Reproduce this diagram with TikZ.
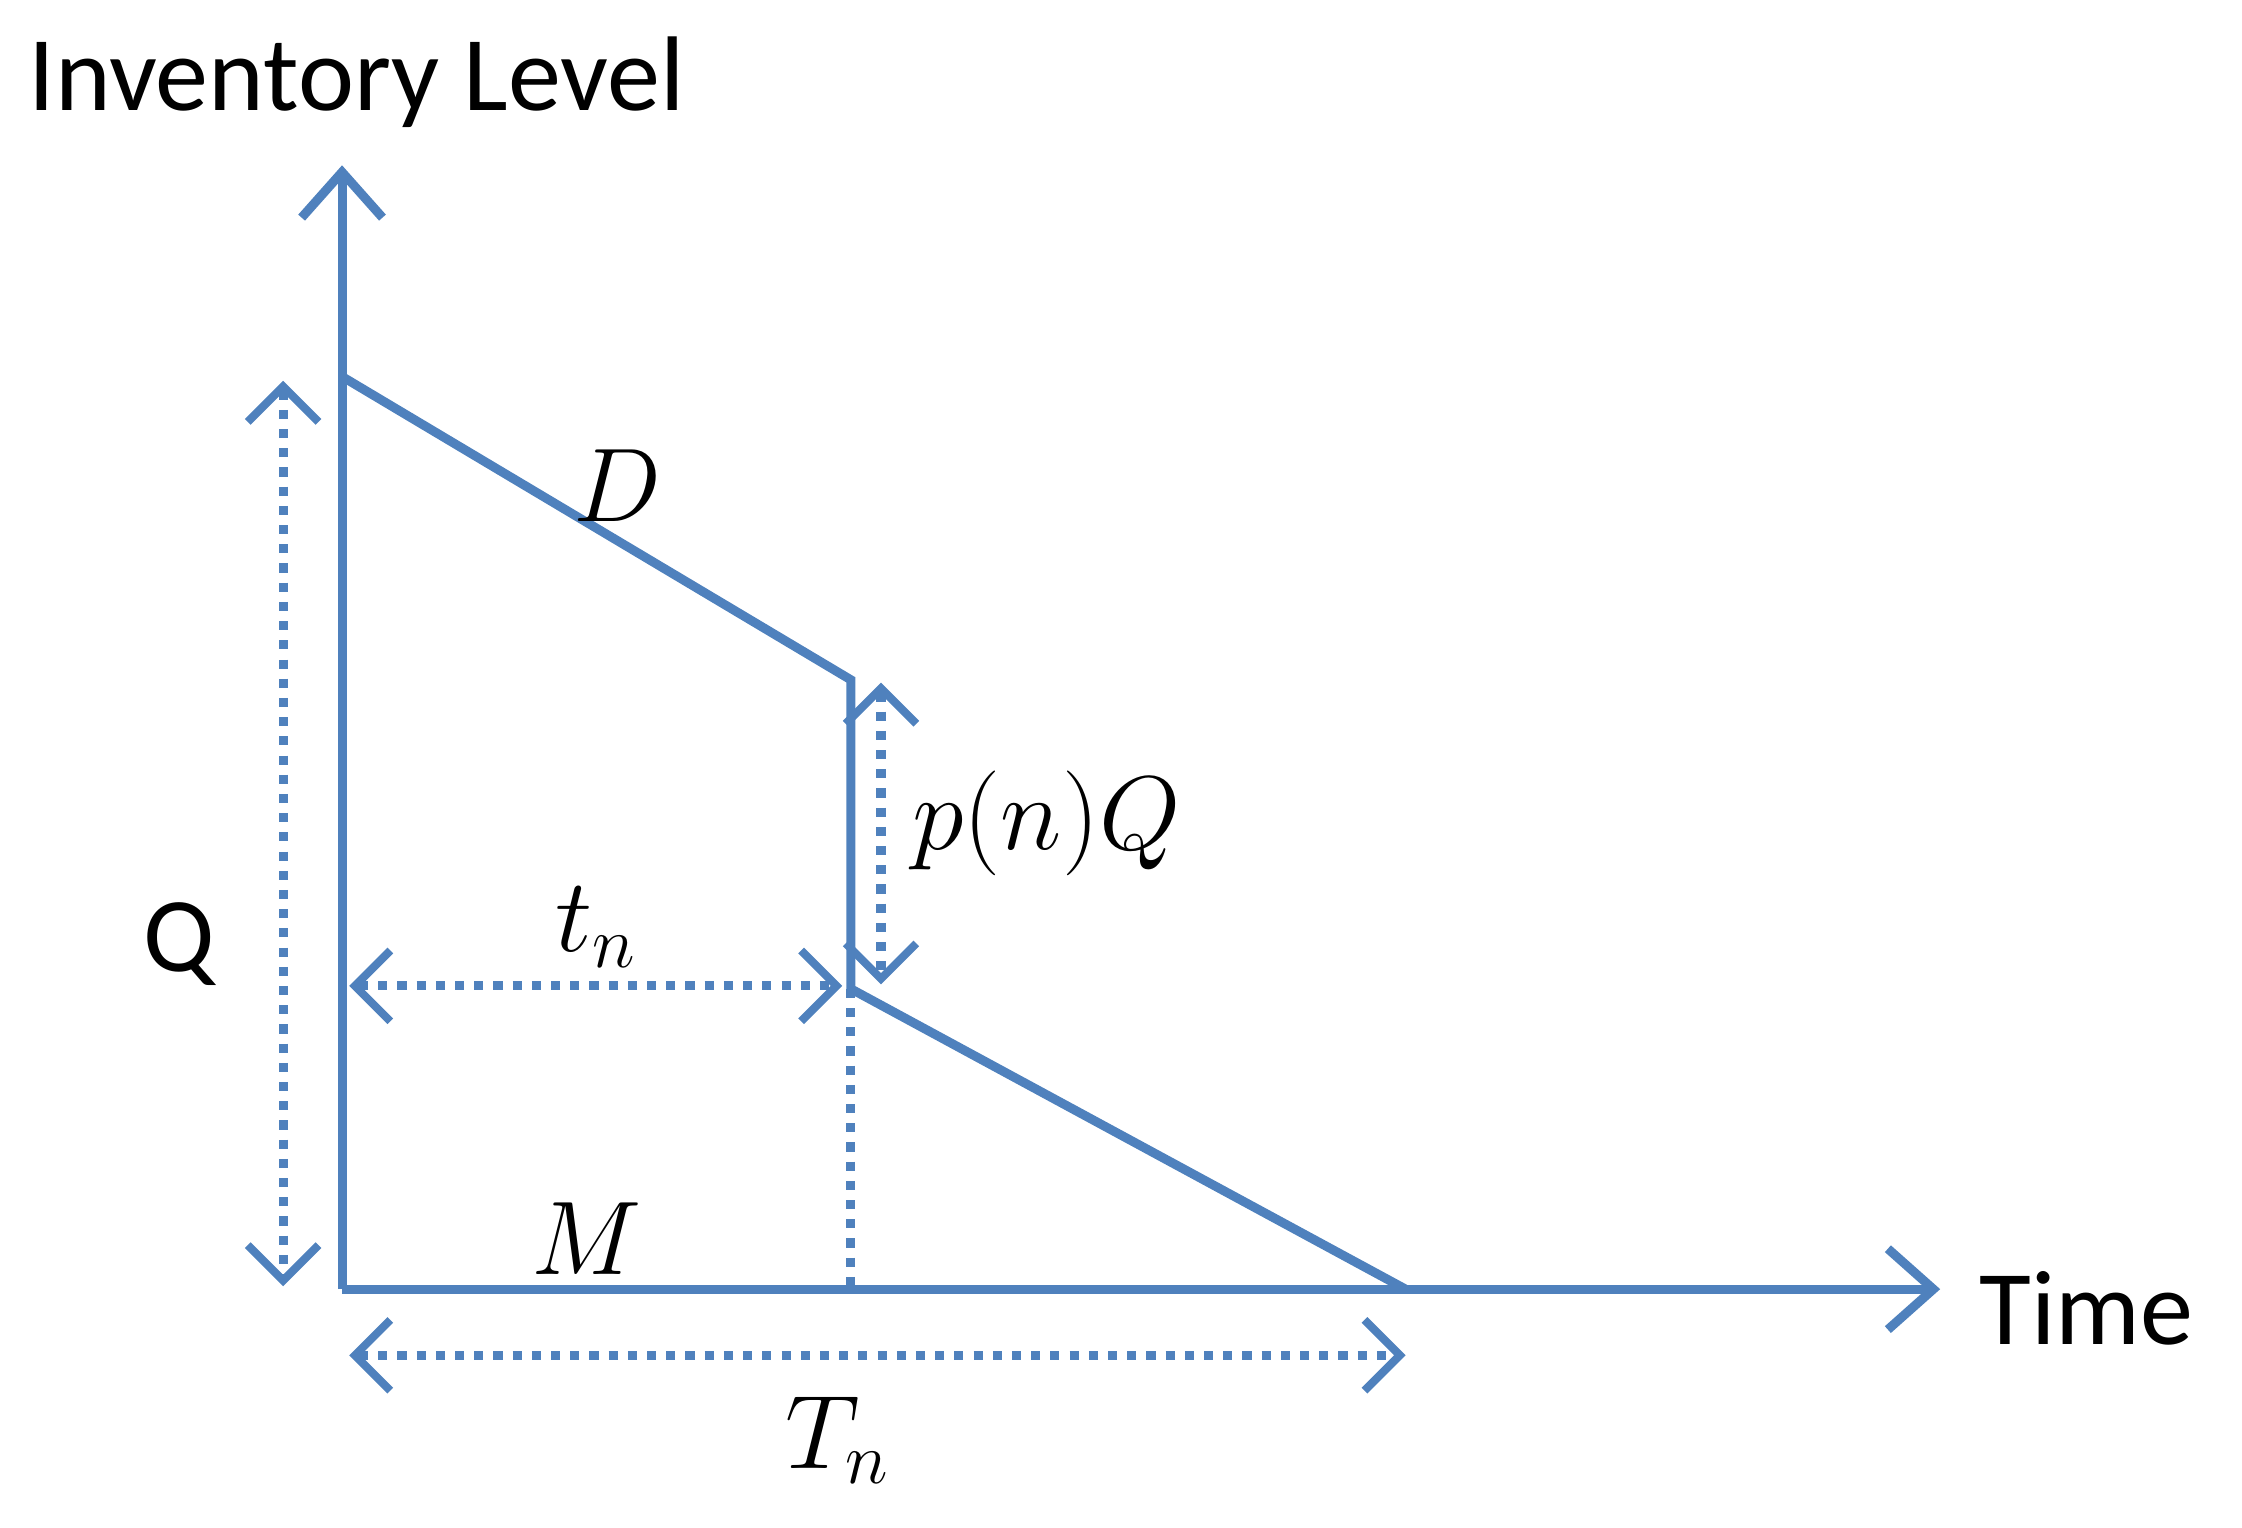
\documentclass[tikz,border=0pt]{standalone}
\usepackage{fontspec}
\setmainfont{Carlito}
\usetikzlibrary{arrows.meta}
\definecolor{bl}{RGB}{79,129,189}
\begin{document}
\begin{tikzpicture}[x=0.01cm,y=-0.01cm,
  ln/.style={draw=bl,line width=1.8pt},
  ax/.style={ln,-{Straight Barb[length=9pt,width=16pt,line width=1.8pt]}},
  dd/.style={draw=bl,line width=1.8pt,dotted,{Straight Barb[length=7pt,width=14pt,line width=1.6pt]}-{Straight Barb[length=7pt,width=14pt,line width=1.6pt]}},
  lb/.style={font=\fontsize{21}{24}\selectfont}]
\useasboundingbox (0,0) rectangle (1560,1063);
\coordinate (O) at (238,897);
\coordinate (Y) at (238,115);
\coordinate (X) at (1350,897);
\coordinate (A) at (238,262);
\coordinate (B) at (592,473);
\coordinate (C) at (592,688);
\coordinate (E) at (978,897);
\coordinate (F) at (592,897);
\draw[ax] (O) -- (Y);
\draw[ax] (O) -- (X);
\draw[ln,line join=miter] (A) -- (B) -- (C) -- (E);
\draw[draw=bl,line width=1.8pt,dotted] (C) -- (F);
\coordinate (q1) at (197,265); \coordinate (q2) at (197,895);
\draw[dd] (q1) -- (q2);
\coordinate (t1) at (243,686); \coordinate (t2) at (586,686);
\draw[dd] (t1) -- (t2);
\coordinate (p1) at (613,475); \coordinate (p2) at (613,685);
\draw[dd] (p1) -- (p2);
\coordinate (T1) at (243,943); \coordinate (T2) at (978,943);
\draw[dd] (T1) -- (T2);
\node[lb] (il) at (248,57) {Inventory Level};
\node[lb] (tm) at (1452,910) {Time};
\node[lb] (Q) at (125,657) {Q};
\node[lb] (D) at (430,338) {$D$};
\node[lb] (M) at (408,862) {$M$};
\node[lb] (tn) at (415,645) {$t_n$};
\node[lb] (pq) at (728,573) {$p(n)Q$};
\node[lb] (Tn) at (583,1002) {$T_n$};
\end{tikzpicture}
\end{document}
